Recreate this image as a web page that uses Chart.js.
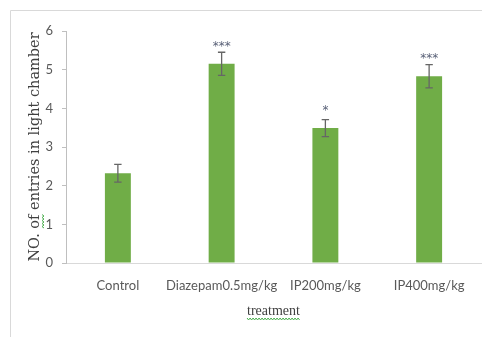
<!DOCTYPE html>
<html>
<head>
<meta charset="utf-8">
<script src="https://cdn.jsdelivr.net/npm/chart.js@4.4.1/dist/chart.umd.min.js"></script>
<style>
  html, body { margin: 0; padding: 0; background: #ffffff; }
  #wrap { position: relative; width: 482px; height: 337px; }
</style>
</head>
<body>
<div id="wrap"><canvas id="c" width="482" height="337"></canvas></div>
<script>
// Number of entries into the light chamber per treatment group (mean ± SEM)
const categories = ['Control', 'Diazepam0.5mg/kg', 'IP200mg/kg', 'IP400mg/kg'];
const meanEntries = [2.32, 5.15, 3.49, 4.83];
const semEntries = [0.23, 0.30, 0.22, 0.30];
const significance = ['', '***', '*', '***'];
const yTicks = [0, 1, 2, 3, 4, 5, 6];

const Y_TITLE = 'NO. of entries in light chamber';
const X_TITLE = 'treatment';
const Y_TITLE_FONT = { family: '"DejaVu Serif", serif', size: 14.5 };
const X_TITLE_FONT = { family: '"Liberation Serif", serif', size: 14 };
const TICK_FONT = { family: 'Lato, sans-serif', size: 13 };

// light outline around the chart object
const framePlugin = {
  id: 'frame',
  beforeDraw(chart) {
    const ctx = chart.ctx;
    ctx.save();
    ctx.strokeStyle = '#d9d9d9';
    ctx.lineWidth = 1;
    ctx.beginPath();
    ctx.moveTo(10.5, chart.height);
    ctx.lineTo(10.5, 10.5);
    ctx.lineTo(chart.width, 10.5);
    ctx.stroke();
    ctx.restore();
  }
};

// error bars and significance marks on top of each bar
const errorBarPlugin = {
  id: 'errorBars',
  afterDatasetsDraw(chart) {
    const ctx = chart.ctx;
    const yScale = chart.scales.y;
    const meta = chart.getDatasetMeta(0);
    ctx.save();
    meta.data.forEach((bar, i) => {
      const x = bar.x;
      const yHi = yScale.getPixelForValue(meanEntries[i] + semEntries[i]);
      const yLo = yScale.getPixelForValue(meanEntries[i] - semEntries[i]);
      ctx.strokeStyle = '#666666';
      ctx.lineWidth = 1.3;
      ctx.beginPath();
      ctx.moveTo(x, yHi); ctx.lineTo(x, yLo);
      ctx.moveTo(x - 3.7, yHi); ctx.lineTo(x + 3.7, yHi);
      ctx.moveTo(x - 3.7, yLo); ctx.lineTo(x + 3.7, yLo);
      ctx.stroke();
      if (significance[i]) {
        const yTop = yScale.getPixelForValue(meanEntries[i]);
        ctx.fillStyle = '#5a6278';
        ctx.font = '12px "DejaVu Sans", sans-serif';
        ctx.textAlign = 'center';
        ctx.textBaseline = 'alphabetic';
        ctx.fillText(significance[i], x, yTop - 14);
      }
    });
    ctx.restore();
  }
};

// wavy proofing underlines beneath "of" and "treatment"
function squiggle(ctx, horizontal, a0, a1, c) {
  ctx.beginPath();
  let up = true;
  for (let p = a0; p <= a1; p += 1.5) {
    const off = up ? -1 : 1;
    if (horizontal) {
      if (p === a0) ctx.moveTo(p, c + off); else ctx.lineTo(p, c + off);
    } else {
      if (p === a0) ctx.moveTo(c + off, p); else ctx.lineTo(c + off, p);
    }
    up = !up;
  }
  ctx.stroke();
}

const proofPlugin = {
  id: 'proofMarks',
  afterDraw(chart) {
    const ctx = chart.ctx;
    const xs = chart.scales.x, ys = chart.scales.y;
    ctx.save();
    ctx.strokeStyle = '#4caf50';
    ctx.lineWidth = 1;
    // x title
    ctx.font = X_TITLE_FONT.size + 'px ' + X_TITLE_FONT.family;
    const wx = ctx.measureText(X_TITLE).width;
    const cx = (xs.left + xs.right) / 2;
    squiggle(ctx, true, cx - wx / 2, cx + wx / 2, 319);
    // "of" inside the rotated y title
    ctx.font = Y_TITLE_FONT.size + 'px ' + Y_TITLE_FONT.family;
    const wy = ctx.measureText(Y_TITLE).width;
    const wPre = ctx.measureText('NO. ').width;
    const wOf = ctx.measureText('of').width;
    const cy = (ys.top + ys.bottom) / 2;
    const start = cy + wy / 2 - wPre;
    squiggle(ctx, false, start - wOf, start, 43);
    ctx.restore();
  }
};

new Chart(document.getElementById('c'), {
  type: 'bar',
  data: {
    labels: categories,
    datasets: [{
      data: meanEntries,
      backgroundColor: '#70ad47',
      borderWidth: 0,
      barPercentage: 0.5,
      categoryPercentage: 0.5
    }]
  },
  options: {
    responsive: false,
    animation: false,
    devicePixelRatio: 1,
    layout: { padding: { top: 31, right: 1, bottom: 0, left: 0 } },
    plugins: {
      legend: { display: false },
      tooltip: { enabled: false }
    },
    scales: {
      x: {
        grid: { display: false },
        border: { display: true, color: '#d9d9d9', width: 1 },
        ticks: { color: '#595959', font: TICK_FONT, padding: 7, maxRotation: 0, autoSkip: false },
        title: { display: true, text: X_TITLE, color: '#404040', font: X_TITLE_FONT, padding: { top: 0, bottom: 17 } },
        afterFit(scale) { scale.height = 74; }
      },
      y: {
        min: 0,
        max: 6,
        afterBuildTicks(scale) { scale.ticks = yTicks.map(v => ({ value: v })); },
        grid: { display: true, drawOnChartArea: false, drawTicks: true, tickLength: 4, color: '#bfbfbf' },
        border: { display: true, color: '#bfbfbf', width: 1 },
        ticks: { color: '#595959', font: TICK_FONT, padding: 9 },
        title: { display: true, text: Y_TITLE, color: '#404040', font: Y_TITLE_FONT, padding: { top: 27, bottom: 0 } },
        afterFit(scale) { scale.width = 66; }
      }
    }
  },
  plugins: [framePlugin, errorBarPlugin, proofPlugin]
});
</script>
</body>
</html>
